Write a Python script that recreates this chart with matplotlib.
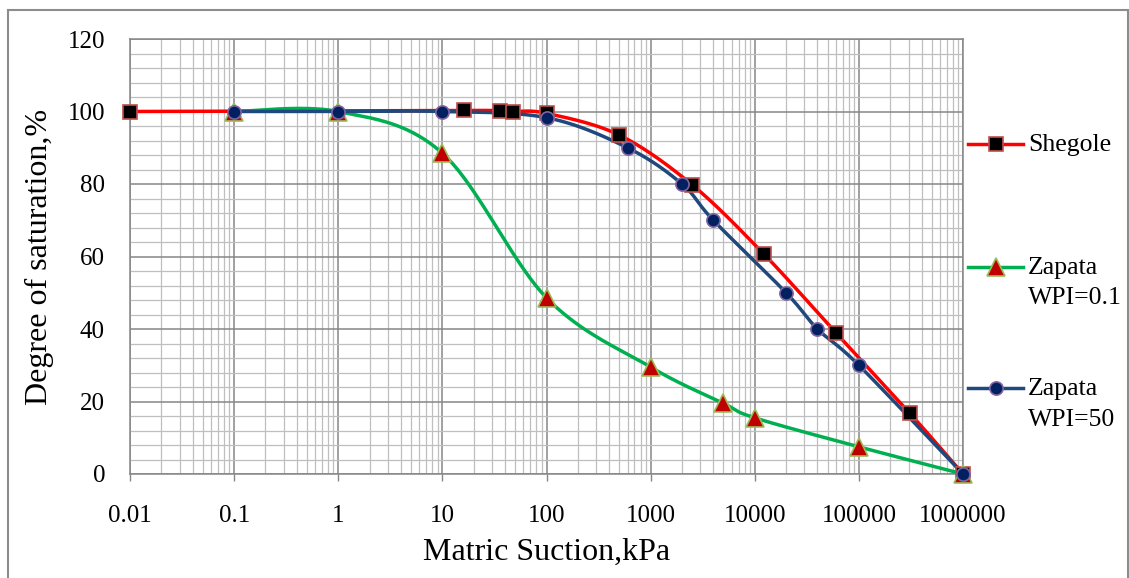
import matplotlib
matplotlib.use("Agg")
import matplotlib.pyplot as plt
from matplotlib.lines import Line2D
from matplotlib.patches import Rectangle
from matplotlib import ticker
import numpy as np

plt.rcParams['font.family'] = ['Liberation Serif', 'DejaVu Serif']

# данные
shegole_x = [0.01, 16, 36, 48, 100, 500, 2500, 12300, 60000, 310000, 1000000]
shegole_y = [100, 100.3, 100.1, 100, 99.5, 93.5, 79.8, 60.6, 39.0, 16.7, 0]

wpi01_x = [0.1, 1, 10, 100, 1000, 5000, 10000, 100000, 1000000]
wpi01_y = [100, 100, 88.5, 48.6, 29.5, 19.5, 15.5, 7.5, 0]

wpi50_x = [0.1, 1, 10, 100, 600, 2000, 4000, 20000, 40000, 100000, 1000000]
wpi50_y = [100, 100, 100, 98.3, 90, 80, 70, 50, 40, 30, 0]

x_ticks = [0.01, 0.1, 1, 10, 100, 1000, 10000, 100000, 1000000]
x_tick_labels = ['0.01', '0.1', '1', '10', '100', '1000', '10000', '100000', '1000000']
y_ticks = [0, 20, 40, 60, 80, 100, 120]

series = [
    ('Shegole', shegole_x, shegole_y,
     dict(color='#FF0000', marker='s', ms=9.5, mfc='black', mec='#C0504D')),
    ('Zapata\nWPI=0.1', wpi01_x, wpi01_y,
     dict(color='#00B050', marker='^', ms=13, mfc='#C00000', mec='#9BBB59')),
    ('Zapata\nWPI=50', wpi50_x, wpi50_y,
     dict(color='#1F497D', marker='o', ms=9.5, mfc='#002060', mec='#8064A2')),
]


def smooth(xs, ys, n=40):
    # сглаживание как в Excel (Catmull-Rom через кривые Безье) в координатах log10(x), y
    pts = np.column_stack([np.log10(xs), ys])
    ext = np.vstack([pts[0], pts, pts[-1]])
    t = np.linspace(0, 1, n)[:, None]
    out = []
    for i in range(len(pts) - 1):
        p0, p1, p2, p3 = ext[i], ext[i + 1], ext[i + 2], ext[i + 3]
        c1 = p1 + (p2 - p0) / 6
        c2 = p2 - (p3 - p1) / 6
        seg = (1 - t)**3 * p1 + 3 * (1 - t)**2 * t * c1 + 3 * (1 - t) * t**2 * c2 + t**3 * p2
        out.append(seg)
    out = np.vstack(out)
    return 10**out[:, 0], out[:, 1]


W, H = 1129, 578
fig = plt.figure(figsize=(W / 100, H / 100), dpi=100)
ax = fig.add_axes([130 / W, 1 - 474 / H, 833 / W, 435 / H])

for label, xs, ys, st in series:
    sx, sy = smooth(xs, ys)
    ax.plot(sx, sy, color=st['color'], lw=2.5, zorder=3, solid_capstyle='round')
    ax.plot(xs, ys, ls='none', marker=st['marker'], ms=st['ms'], mfc=st['mfc'],
            mec=st['mec'], mew=1.2, zorder=4, clip_on=False)

ax.set_xscale('log')
ax.set_xlim(0.01, 1000000)
ax.set_ylim(0, 120)
ax.xaxis.set_major_locator(ticker.FixedLocator(x_ticks))
ax.xaxis.set_major_formatter(ticker.FixedFormatter(x_tick_labels))
ax.xaxis.set_minor_locator(ticker.LogLocator(base=10, subs=np.arange(2, 10), numticks=100))
ax.xaxis.set_minor_formatter(ticker.NullFormatter())
ax.set_yticks(y_ticks)
ax.yaxis.set_minor_locator(ticker.MultipleLocator(4))

ax.set_axisbelow(True)
ax.grid(which='major', color='#868686', lw=1.1)
ax.grid(which='minor', color='#BFBFBF', lw=0.9)
ax.tick_params(which='minor', length=0)
ax.tick_params(axis='x', which='major', direction='out', length=5, width=1,
               color='#868686', labelsize=18, pad=17)
ax.tick_params(axis='y', which='major', length=0, labelsize=18, pad=18)
for s in ax.spines.values():
    s.set_color('#868686')
    s.set_linewidth(1.1)

ax.set_xlabel('Matric Suction,kPa', fontsize=23, labelpad=8)
ax.set_ylabel('Degree of saturation,%', fontsize=23, labelpad=10)

# легенда справа
legend_y = [144, 267, 388]
for (label, xs, ys, st), yy in zip(series, legend_y):
    fy = 1 - yy / H
    fig.add_artist(Line2D([968 / W, 1023 / W], [fy, fy], color=st['color'], lw=2.5,
                          transform=fig.transFigure))
    fig.add_artist(Line2D([996 / W], [fy], ls='none', marker=st['marker'], ms=st['ms'],
                          mfc=st['mfc'], mec=st['mec'], mew=1.2, transform=fig.transFigure))
    fig.text(1028 / W, 1 - (yy - 10) / H, label, fontsize=18.5, va='top', ha='left',
             linespacing=1.5, transform=fig.transFigure)

# внешняя рамка
fig.add_artist(Rectangle((8 / W, -0.1), 1120 / W, 1.1 - 10 / H, fill=False,
                         edgecolor='#8C8C8C', lw=1.5, transform=fig.transFigure))

fig.savefig('out.png', dpi=100)
